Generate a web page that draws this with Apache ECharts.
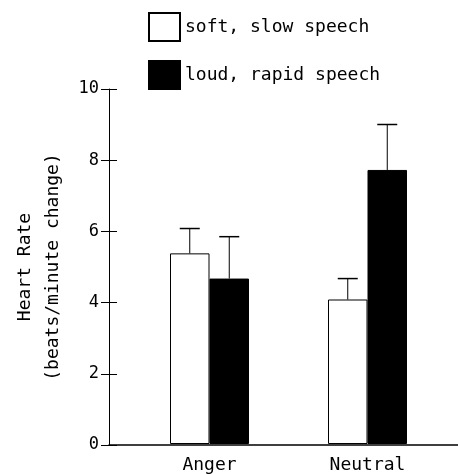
<!DOCTYPE html>
<html>
<head>
<meta charset="utf-8">
<script src="https://cdn.jsdelivr.net/npm/echarts@6/dist/echarts.min.js"></script>
<style>html,body{margin:0;padding:0;background:#fff;}#c{width:458px;height:474px;}</style>
</head>
<body>
<div id="c"></div>
<script>
const categories = ['Anger', 'Neutral'];
const seriesNames = ['soft, slow speech', 'loud, rapid speech'];
const softMeans = [5.37, 4.07];
const softErr = [0.70, 0.59];
const loudMeans = [4.66, 7.72];
const loudErr = [1.18, 1.28];
const yTicks = [0, 2, 4, 6, 8, 10];

const FONT = 'DejaVu Sans Mono';
const BAR_W = 39.5;

const chart = echarts.init(document.getElementById('c'), null, {renderer: 'canvas'});

function errRender(offset) {
  return function (params, api) {
    const i = api.value(0);
    const base = api.coord([i, api.value(1)]);
    const top = api.coord([i, api.value(1) + api.value(2)]);
    const x = base[0] + offset;
    return {
      type: 'group',
      children: [
        {type: 'line', shape: {x1: x, y1: base[1], x2: x, y2: top[1]}, style: {stroke: '#000', lineWidth: 1}},
        {type: 'line', shape: {x1: x - 10, y1: top[1], x2: x + 10, y2: top[1]}, style: {stroke: '#000', lineWidth: 1.5}}
      ]
    };
  };
}

const yMin = yTicks[0], yMax = yTicks[yTicks.length - 1];

chart.setOption({
  animation: false,
  backgroundColor: '#fff',
  legend: {
    orient: 'vertical',
    left: 148, top: 12,
    itemWidth: 31, itemHeight: 28, itemGap: 18,
    padding: 0,
    icon: 'rect',
    data: seriesNames,
    textStyle: {fontFamily: FONT, fontSize: 18, color: '#000'},
    selectedMode: false
  },
  grid: [
    {left: 109, right: 0, top: 89, bottom: 29},
    {left: 130.5, right: 11.5, top: 89, bottom: 29}
  ],
  xAxis: [
    {gridIndex: 0, type: 'value', min: 0, max: 1, axisLine: {show: true, lineStyle: {color: '#000', width: 1.5}}, axisTick: {show: false}, axisLabel: {show: false}, splitLine: {show: false}},
    {gridIndex: 1, type: 'category', data: categories, axisLine: {show: false}, axisTick: {show: false},
      axisLabel: {fontFamily: FONT, fontSize: 18, color: '#000', margin: 12}}
  ],
  yAxis: [
    {gridIndex: 0, type: 'value', position: 'left', min: yMin, max: yMax, interval: 2,
      axisLine: {show: true, lineStyle: {color: '#000', width: 1}},
      axisTick: {show: true, inside: false, length: 8, lineStyle: {color: '#000', width: 1}},
      axisLabel: {fontFamily: FONT, fontSize: 17, color: '#000', margin: 10},
      splitLine: {show: false},
      name: 'Heart Rate\n(beats/minute change)', nameLocation: 'middle', nameGap: 42, nameRotate: 90,
      nameTextStyle: {fontFamily: FONT, fontSize: 18, color: '#000', lineHeight: 28}
    },
    {gridIndex: 0, type: 'value', position: 'left', offset: 0, min: yMin, max: yMax, interval: 2,
      axisLine: {show: false},
      axisTick: {show: true, inside: true, length: 8, lineStyle: {color: '#000', width: 1}},
      axisLabel: {show: false}, splitLine: {show: false}
    },
    {gridIndex: 1, type: 'value', min: yMin, max: yMax, interval: 2, show: false}
  ],
  series: [
    {name: seriesNames[0], type: 'bar', xAxisIndex: 1, yAxisIndex: 2, data: softMeans, barWidth: BAR_W, barGap: '0%',
      itemStyle: {color: '#fff', borderColor: '#000', borderWidth: 1}},
    {name: seriesNames[1], type: 'bar', xAxisIndex: 1, yAxisIndex: 2, data: loudMeans, barWidth: BAR_W, barGap: '0%',
      itemStyle: {color: '#000', borderColor: '#000', borderWidth: 1}},
    {type: 'custom', xAxisIndex: 1, yAxisIndex: 2, renderItem: errRender(-BAR_W / 2),
      data: categories.map((c, i) => [i, softMeans[i], softErr[i]]), z: 3},
    {type: 'custom', xAxisIndex: 1, yAxisIndex: 2, renderItem: errRender(BAR_W / 2),
      data: categories.map((c, i) => [i, loudMeans[i], loudErr[i]]), z: 3}
  ]
});
</script>
</body>
</html>
